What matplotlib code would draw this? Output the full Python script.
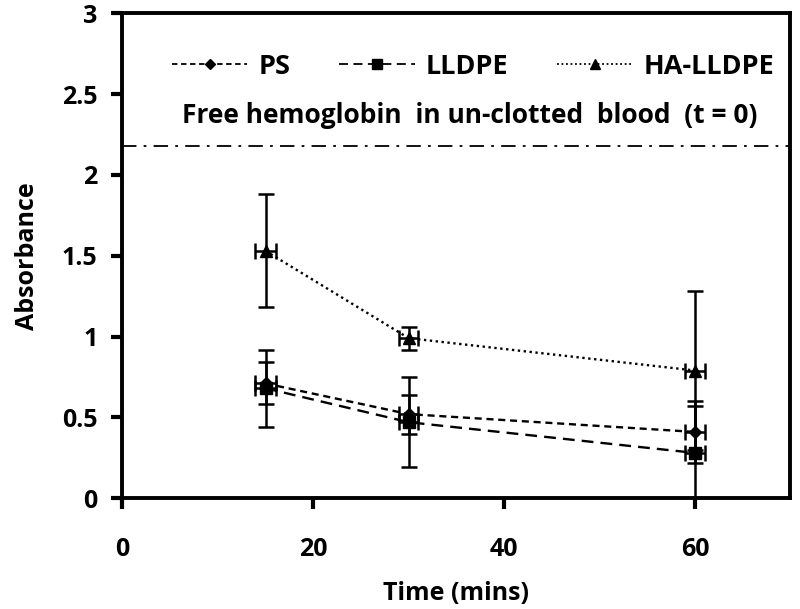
import matplotlib
matplotlib.use("Agg")
from matplotlib import pyplot as plt
from matplotlib.lines import Line2D

plt.rcParams['font.family'] = ['Open Sans', 'DejaVu Sans']
plt.rcParams['font.weight'] = 'bold'

time = [15, 30, 60]
time_err = [1.1, 1.0, 1.05]

ps = [0.71, 0.52, 0.41]
ps_err = [0.13, 0.12, 0.19]
lldpe = [0.68, 0.47, 0.28]
lldpe_err = [0.24, 0.28, 0.29]
ha_lldpe = [1.53, 0.99, 0.79]
ha_lldpe_err = [0.35, 0.07, 0.49]

free_hb = 2.18

fig = plt.figure(figsize=(8, 6.09), dpi=100)
ax = fig.add_axes([0.153, 0.182, 0.835, 0.796])

styles = [('PS', ps, ps_err, 'D', (0, (3, 2)), 6),
          ('LLDPE', lldpe, lldpe_err, 's', (0, (5, 3)), 8),
          ('HA-LLDPE', ha_lldpe, ha_lldpe_err, '^', (0, (1, 1.5)), 8)]
handles = []
for name, vals, errs, mk, ls, ms in styles:
    ax.errorbar(time, vals, yerr=errs, xerr=time_err, fmt=mk, ls=ls, lw=1.7,
                color='black', ms=ms, capsize=6, elinewidth=1.8, capthick=1.8)
    handles.append(Line2D([], [], color='black', marker=mk, ls=ls, lw=1.3, ms=ms * 0.85, label=name))

ax.axhline(free_hb, color='black', lw=1.3, ls=(0, (8, 4, 1.5, 4)))

ax.text(0.52, 0.79, 'Free hemoglobin  in un-clotted  blood  (t = 0)', transform=ax.transAxes,
        ha='center', va='center', fontsize=19, fontweight='bold')

ax.set_xlim(0, 70)
ax.set_ylim(0, 3)
ax.set_xticks([0, 20, 40, 60])
ax.set_yticks([0, 0.5, 1, 1.5, 2, 2.5, 3])
ax.set_yticklabels(['0', '0.5', '1', '1.5', '2', '2.5', '3'])
ax.tick_params(axis='both', labelsize=18, width=3, length=8, direction='out')
ax.tick_params(axis='x', pad=20)
ax.tick_params(axis='y', pad=10)
for s in ax.spines.values():
    s.set_linewidth(2.8)

ax.set_xlabel('Time (mins)', fontsize=18, fontweight='bold', labelpad=14)
ax.set_ylabel('Absorbance', fontsize=18, fontweight='bold', labelpad=16)

ax.legend(handles=handles, loc='center', bbox_to_anchor=(0.525, 0.89), ncol=3, frameon=False,
          fontsize=19.5, handlelength=2.8, columnspacing=1.8, handletextpad=0.4)

fig.savefig('out.png', dpi=100)
